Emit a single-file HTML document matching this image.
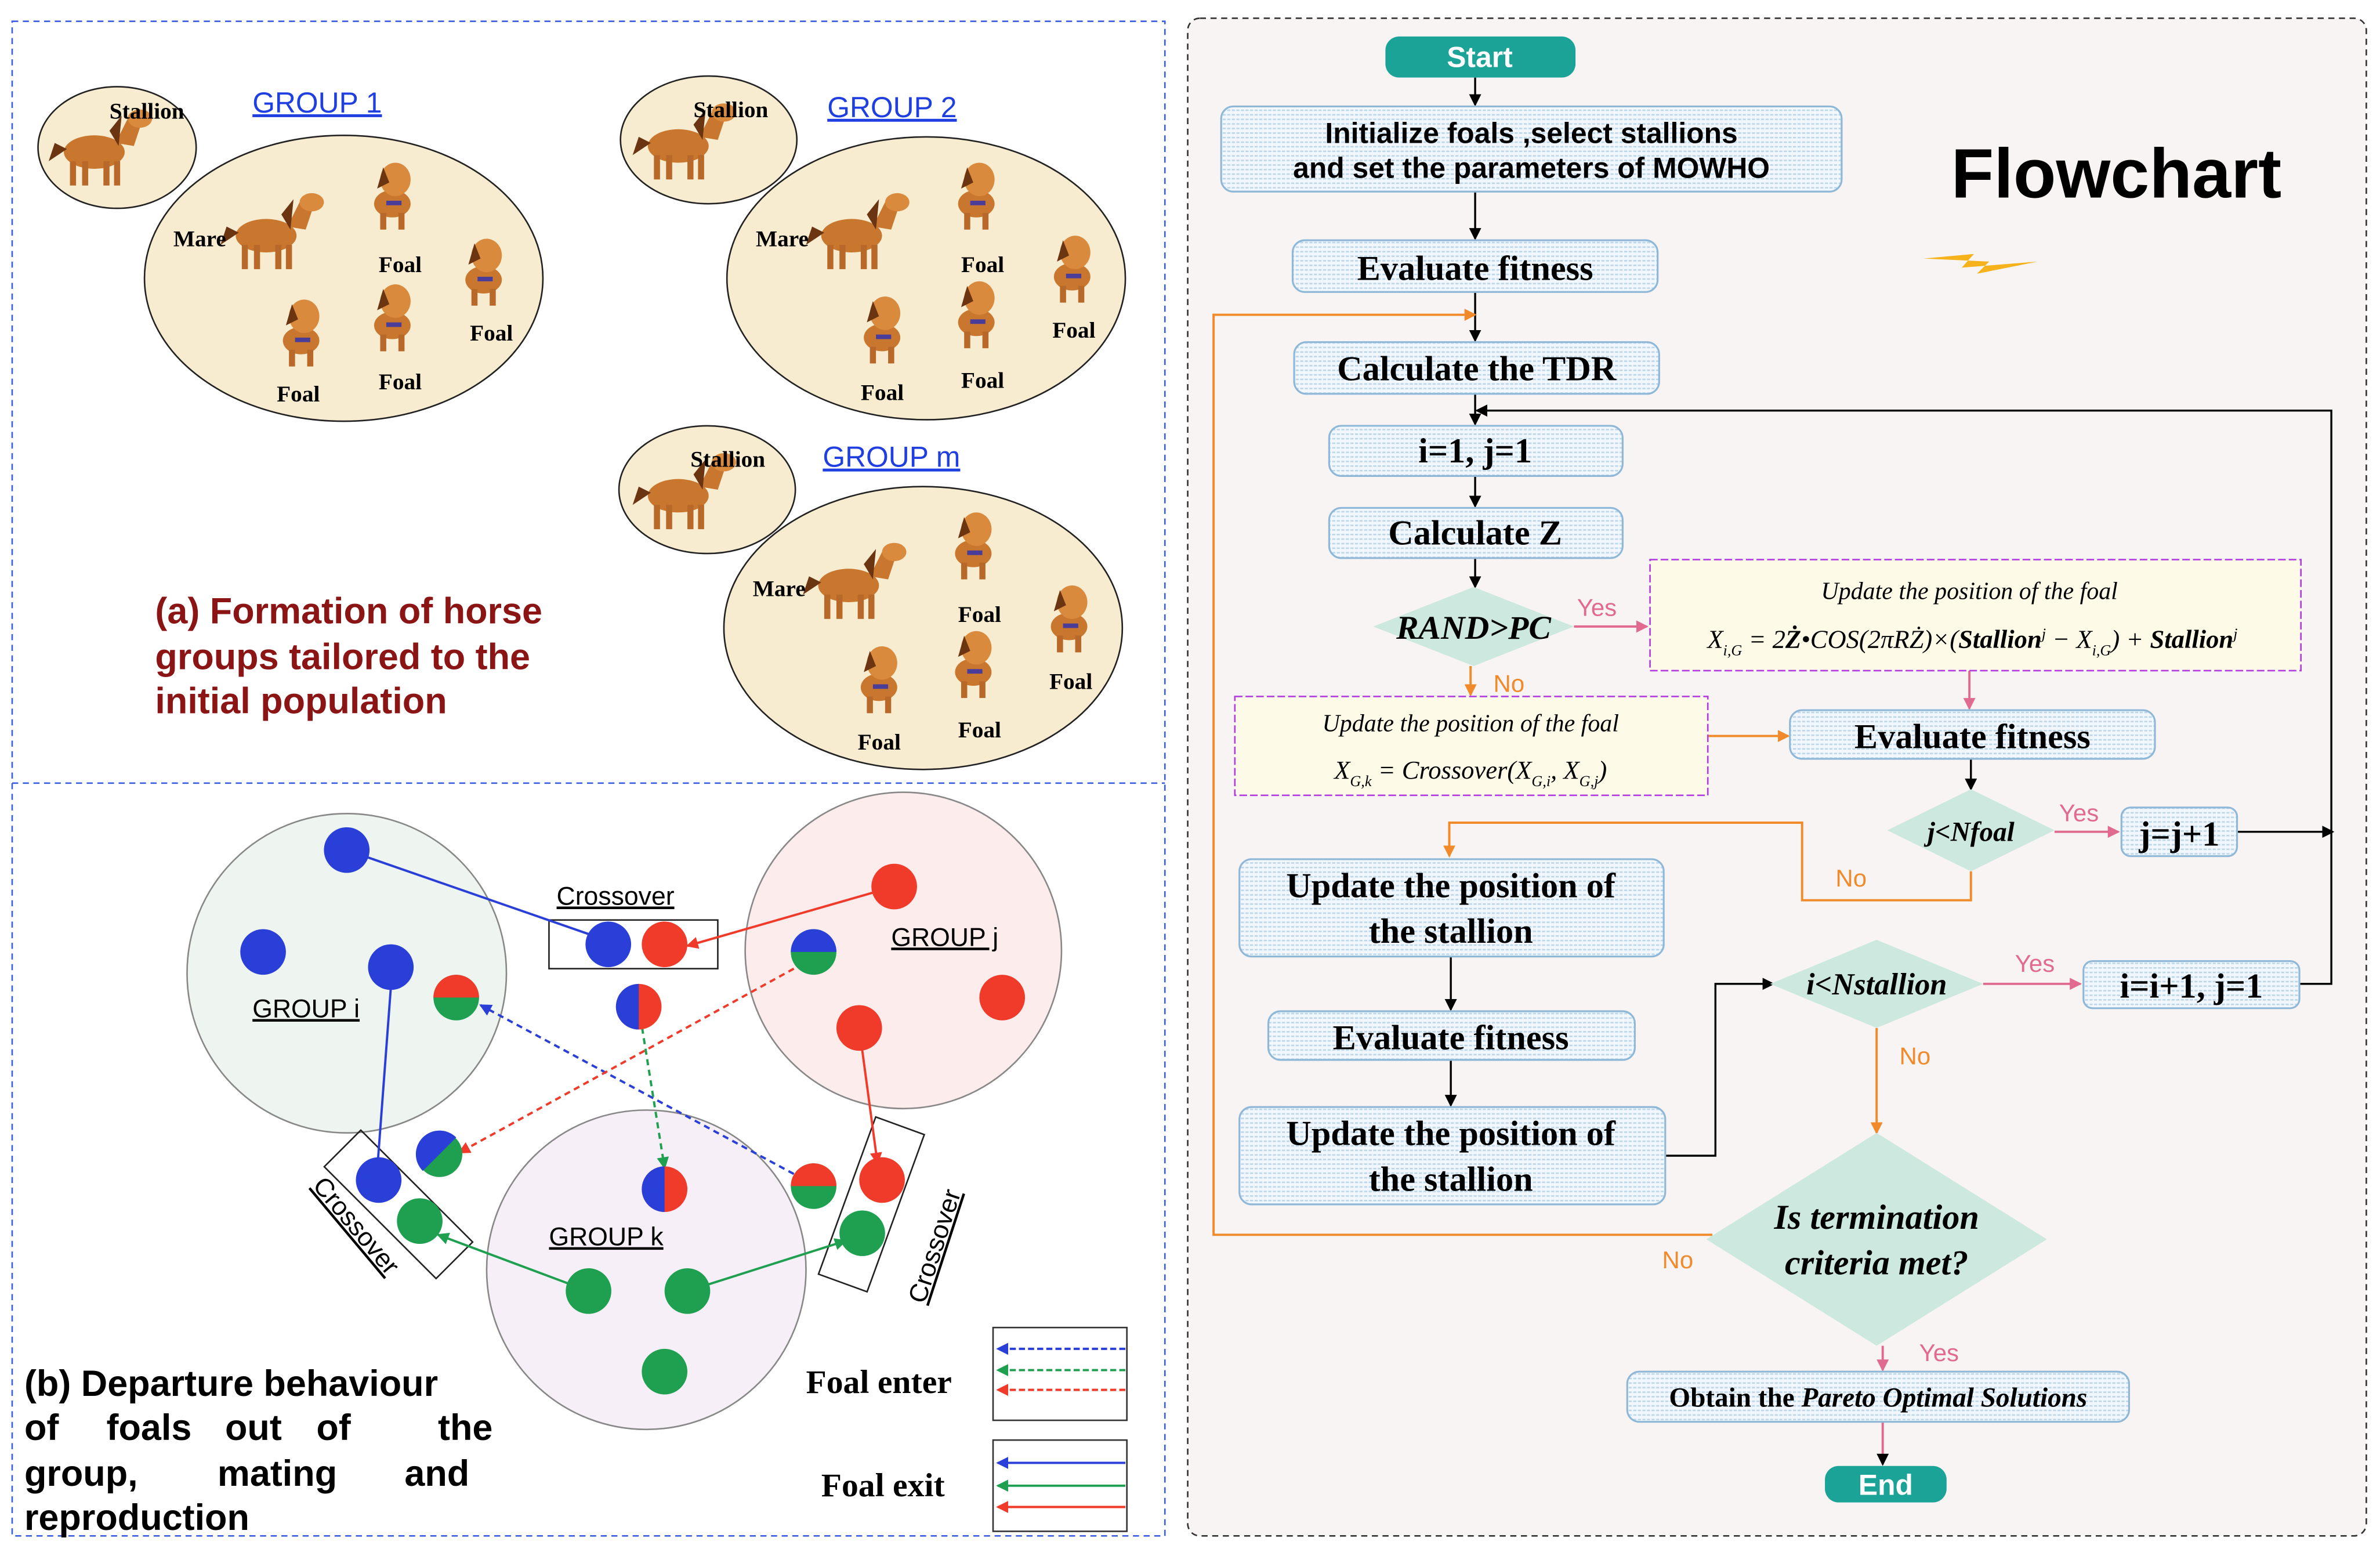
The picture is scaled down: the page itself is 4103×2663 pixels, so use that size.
<!DOCTYPE html>
<html><head><meta charset="utf-8"><style>
html,body{margin:0;padding:0;background:#fff;}
svg{display:block;}
.serif{font-family:"Liberation Serif",serif;}
.sans{font-family:"Liberation Sans",sans-serif;}
</style></head><body>
<svg width="4103" height="2663" viewBox="0 0 1565 1016" preserveAspectRatio="none" xmlns="http://www.w3.org/2000/svg">
<defs>
<pattern id="dots" width="3" height="3" patternUnits="userSpaceOnUse"><rect width="3" height="3" fill="#f1f7fc"/><rect width="2" height="1" fill="#bcd6ea"/></pattern>
<marker id="ab" markerWidth="8" markerHeight="8" refX="7" refY="4" orient="auto" markerUnits="userSpaceOnUse"><path d="M0,0 L8,4 L0,8z" fill="#000"/></marker>
<marker id="ao" markerWidth="8" markerHeight="8" refX="7" refY="4" orient="auto" markerUnits="userSpaceOnUse"><path d="M0,0 L8,4 L0,8z" fill="#f08a2a"/></marker>
<marker id="ap" markerWidth="8" markerHeight="8" refX="7" refY="4" orient="auto" markerUnits="userSpaceOnUse"><path d="M0,0 L8,4 L0,8z" fill="#e06b8e"/></marker>
<marker id="abl" markerWidth="8" markerHeight="8" refX="7" refY="4" orient="auto" markerUnits="userSpaceOnUse"><path d="M0,0 L8,4 L0,8z" fill="#2a3fd8"/></marker>
<marker id="ar" markerWidth="8" markerHeight="8" refX="7" refY="4" orient="auto" markerUnits="userSpaceOnUse"><path d="M0,0 L8,4 L0,8z" fill="#f03a2a"/></marker>
<marker id="ag" markerWidth="8" markerHeight="8" refX="7" refY="4" orient="auto" markerUnits="userSpaceOnUse"><path d="M0,0 L8,4 L0,8z" fill="#1fa050"/></marker>
<g id="horse">
<ellipse cx="0" cy="0" rx="20" ry="11" fill="#c9772e"/>
<path d="M14,-6 L24,-26 L32,-22 L26,-4z" fill="#c9772e"/>
<ellipse cx="30" cy="-22" rx="8" ry="6" fill="#d98a3c"/>
<path d="M18,-24 L10,-14 L16,-4z" fill="#6b3512"/>
<path d="M-18,-2 L-30,6 L-26,-6z" fill="#6b3512"/>
<rect x="-16" y="6" width="4" height="16" fill="#b8692a"/><rect x="-8" y="6" width="4" height="16" fill="#b8692a"/>
<rect x="6" y="6" width="4" height="16" fill="#b8692a"/><rect x="13" y="6" width="4" height="16" fill="#b8692a"/>
</g>
<g id="foal">
<ellipse cx="0" cy="4" rx="12" ry="9" fill="#c9772e"/>
<ellipse cx="2" cy="-12" rx="10" ry="11" fill="#d98a3c"/>
<path d="M-6,-20 L-10,-6 L-2,-10z" fill="#6b3512"/>
<rect x="-8" y="10" width="4" height="11" fill="#b8692a"/><rect x="4" y="10" width="4" height="11" fill="#b8692a"/>
<rect x="-4" y="2" width="10" height="3" fill="#4a3d9a"/>
</g>
</defs>
<rect width="1565" height="1016" fill="#fff"/>
<rect x="8" y="14" width="758" height="996" fill="#fff" stroke="#3b5fe0" stroke-width="1" stroke-dasharray="4,3"/>
<line x1="8" y1="515" x2="766" y2="515" stroke="#3b5fe0" stroke-dasharray="4,3"/>
<g class="serif" font-weight="bold" font-size="15">
<ellipse cx="77" cy="97" rx="52" ry="40" fill="#f7ebd0" stroke="#222"/>
<ellipse cx="226" cy="183" rx="131" ry="94" fill="#f7ebd0" stroke="#222"/>
<use href="#horse" x="62" y="100"/><text x="72" y="78">Stallion</text>
<use href="#horse" x="175" y="155"/><text x="114" y="162">Mare</text>
<use href="#foal" x="258" y="130"/><text x="249" y="179">Foal</text>
<use href="#foal" x="318" y="180"/><text x="309" y="224">Foal</text>
<use href="#foal" x="198" y="220"/><text x="182" y="264">Foal</text>
<use href="#foal" x="258" y="210"/><text x="249" y="256">Foal</text>
<text x="166" y="74" class="sans" font-weight="normal" font-size="19" fill="#1f3fe0" text-decoration="underline">GROUP 1</text>
<ellipse cx="466" cy="92" rx="58" ry="42" fill="#f7ebd0" stroke="#222"/>
<ellipse cx="609" cy="183" rx="131" ry="93" fill="#f7ebd0" stroke="#222"/>
<use href="#horse" x="446" y="96"/><text x="456" y="77">Stallion</text>
<use href="#horse" x="560" y="155"/><text x="497" y="162">Mare</text>
<use href="#foal" x="642" y="130"/><text x="632" y="179">Foal</text>
<use href="#foal" x="705" y="178"/><text x="692" y="222">Foal</text>
<use href="#foal" x="580" y="218"/><text x="566" y="263">Foal</text>
<use href="#foal" x="642" y="208"/><text x="632" y="255">Foal</text>
<text x="544" y="77" class="sans" font-weight="normal" font-size="19" fill="#1f3fe0" text-decoration="underline">GROUP 2</text>
<ellipse cx="465" cy="322" rx="58" ry="42" fill="#f7ebd0" stroke="#222"/>
<ellipse cx="607" cy="413" rx="131" ry="93" fill="#f7ebd0" stroke="#222"/>
<use href="#horse" x="446" y="326"/><text x="454" y="307">Stallion</text>
<use href="#horse" x="558" y="385"/><text x="495" y="392">Mare</text>
<use href="#foal" x="640" y="360"/><text x="630" y="409">Foal</text>
<use href="#foal" x="703" y="408"/><text x="690" y="453">Foal</text>
<use href="#foal" x="578" y="448"/><text x="564" y="493">Foal</text>
<use href="#foal" x="640" y="438"/><text x="630" y="485">Foal</text>
<text x="541" y="307" class="sans" font-weight="normal" font-size="19" fill="#1f3fe0" text-decoration="underline">GROUP m</text>
</g>
<g class="sans" font-size="24" font-weight="bold" fill="#8b1414">
<text x="102" y="410">(a) Formation of horse</text>
<text x="102" y="440">groups tailored to the</text>
<text x="102" y="469">initial population</text>
</g>
<circle cx="228" cy="640" r="105" fill="#eef4ef" stroke="#888"/>
<circle cx="594" cy="625" r="104" fill="#fcecec" stroke="#888"/>
<circle cx="425" cy="835" r="105" fill="#f6eff7" stroke="#888"/>
<g class="sans" font-size="17" text-decoration="underline">
<text x="166" y="669">GROUP i</text><text x="586" y="622">GROUP j</text><text x="361" y="819">GROUP k</text>
<text x="366" y="595">Crossover</text>
<text transform="translate(205,780) rotate(50)">Crossover</text>
<text transform="translate(608,858) rotate(-72)">Crossover</text>
</g>
<rect x="361" y="605" width="111" height="32" fill="none" stroke="#222"/>
<rect x="245" y="740" width="34" height="104" fill="none" stroke="#222" transform="rotate(-45 262 792)"/>
<rect x="556" y="737" width="34" height="110" fill="none" stroke="#222" transform="rotate(20 573 792)"/>
<g stroke-width="1.5" fill="none">
<line x1="228" y1="559" x2="395" y2="617" stroke="#2a3fd8" marker-end="url(#abl)"/>
<line x1="258" y1="636" x2="248" y2="770" stroke="#2a3fd8" marker-end="url(#abl)"/>
<line x1="588" y1="583" x2="452" y2="622" stroke="#f03a2a" marker-end="url(#ar)"/>
<line x1="565" y1="676" x2="577" y2="765" stroke="#f03a2a" marker-end="url(#ar)"/>
<line x1="387" y1="849" x2="288" y2="812" stroke="#1fa050" marker-end="url(#ag)"/>
<line x1="452" y1="849" x2="556" y2="816" stroke="#1fa050" marker-end="url(#ag)"/>
<line x1="522" y1="772" x2="316" y2="661" stroke="#2a3fd8" stroke-dasharray="4,3" marker-end="url(#abl)"/>
<line x1="420" y1="662" x2="437" y2="768" stroke="#1fa050" stroke-dasharray="4,3" marker-end="url(#ag)"/>
<line x1="522" y1="637" x2="302" y2="758" stroke="#f03a2a" stroke-dasharray="4,3" marker-end="url(#ar)"/>
</g>
<g>
<circle cx="228" cy="559" r="15" fill="#2a3fd8"/><circle cx="173" cy="626" r="15" fill="#2a3fd8"/><circle cx="257" cy="636" r="15" fill="#2a3fd8"/>
<circle cx="588" cy="583" r="15" fill="#f03a2a"/><circle cx="659" cy="656" r="15" fill="#f03a2a"/><circle cx="565" cy="676" r="15" fill="#f03a2a"/>
<circle cx="387" cy="849" r="15" fill="#1fa050"/><circle cx="452" cy="849" r="15" fill="#1fa050"/><circle cx="437" cy="902" r="15" fill="#1fa050"/>
<circle cx="400" cy="621" r="15" fill="#2a3fd8"/><circle cx="437" cy="621" r="15" fill="#f03a2a"/>
<circle cx="249" cy="776" r="15" fill="#2a3fd8"/><circle cx="276" cy="803" r="15" fill="#1fa050"/>
<circle cx="580" cy="776" r="15" fill="#f03a2a"/><circle cx="567" cy="811" r="15" fill="#1fa050"/>
<circle cx="420" cy="662" r="15" fill="#f03a2a"/><path d="M420,647 A15,15 0 0,0 420,677z" fill="#2a3fd8"/>
<circle cx="437" cy="782" r="15" fill="#f03a2a"/><path d="M437,767 A15,15 0 0,0 437,797z" fill="#2a3fd8"/>
<circle cx="300" cy="656" r="15" fill="#1fa050"/><path d="M285,656 A15,15 0 0,1 315,656z" fill="#f03a2a"/>
<circle cx="535" cy="626" r="15" fill="#1fa050"/><path d="M520,626 A15,15 0 0,1 550,626z" fill="#2a3fd8"/>
<circle cx="289" cy="759" r="15" fill="#1fa050"/><path d="M278,748 A15,15 0 0,1 300,770z" fill="#2a3fd8" transform="rotate(-90 289 759)"/>
<circle cx="535" cy="780" r="15" fill="#1fa050"/><path d="M520,780 A15,15 0 0,1 550,780z" fill="#f03a2a"/>
</g>
<g class="sans" font-size="24" font-weight="bold">
<text x="16" y="918">(b) Departure behaviour</text>
<text x="16" y="947">of</text><text x="70" y="947">foals</text><text x="148" y="947">out</text><text x="208" y="947">of</text><text x="288" y="947">the</text>
<text x="16" y="977">group,</text><text x="143" y="977">mating</text><text x="266" y="977">and</text>
<text x="16" y="1006">reproduction</text>
</g>
<text x="530" y="916" class="serif" font-weight="bold" font-size="22">Foal enter</text>
<text x="540" y="984" class="serif" font-weight="bold" font-size="22">Foal exit</text>
<rect x="653" y="873" width="88" height="61" fill="#fff" stroke="#333"/>
<rect x="653" y="947" width="88" height="60" fill="#fff" stroke="#333"/>
<g stroke-width="1.5">
<line x1="740" y1="887" x2="656" y2="887" stroke="#2a3fd8" stroke-dasharray="4,2" marker-end="url(#abl)"/>
<line x1="740" y1="901" x2="656" y2="901" stroke="#1fa050" stroke-dasharray="4,2" marker-end="url(#ag)"/>
<line x1="740" y1="914" x2="656" y2="914" stroke="#f03a2a" stroke-dasharray="4,2" marker-end="url(#ar)"/>
<line x1="740" y1="962" x2="656" y2="962" stroke="#2a3fd8" marker-end="url(#abl)"/>
<line x1="740" y1="977" x2="656" y2="977" stroke="#1fa050" marker-end="url(#ag)"/>
<line x1="740" y1="991" x2="656" y2="991" stroke="#f03a2a" marker-end="url(#ar)"/>
</g>
<rect x="781" y="12" width="775" height="998" rx="8" fill="#f8f4f4" stroke="#333" stroke-dasharray="4,3"/>
<text x="1283" y="130" class="sans" font-weight="bold" font-size="46">Flowchart</text>
<path d="M1265,170 L1298,167 L1290,176 L1340,172 L1300,180 L1308,172z" fill="#f5b21a"/>
<g stroke="#000" stroke-width="1.3" fill="none">
<line x1="970" y1="51" x2="970" y2="69" marker-end="url(#ab)"/>
<line x1="970" y1="126" x2="970" y2="157" marker-end="url(#ab)"/>
<line x1="970" y1="192" x2="970" y2="224" marker-end="url(#ab)"/>
<line x1="970" y1="259" x2="970" y2="279" marker-end="url(#ab)"/>
<line x1="970" y1="313" x2="970" y2="333" marker-end="url(#ab)"/>
<line x1="970" y1="367" x2="970" y2="386" marker-end="url(#ab)"/>
<line x1="1296" y1="499" x2="1296" y2="519" marker-end="url(#ab)"/>
<polyline points="1512,647 1533,647 1533,270 971,270" marker-end="url(#ab)"/>
<line x1="1471" y1="547" x2="1534" y2="547" marker-end="url(#ab)"/>
<line x1="954" y1="629" x2="954" y2="664" marker-end="url(#ab)"/>
<line x1="954" y1="697" x2="954" y2="727" marker-end="url(#ab)"/>
<polyline points="1095,760 1128,760 1128,647 1166,647" marker-end="url(#ab)"/>
</g>
<g stroke="#f08a2a" stroke-width="1.5" fill="none">
<polyline points="1126,812 798,812 798,207 970,207" marker-end="url(#ao)"/>
<line x1="967" y1="438" x2="967" y2="457" marker-end="url(#ao)"/>
<line x1="1123" y1="484" x2="1176" y2="484" marker-end="url(#ao)"/>
<polyline points="1296,573 1296,592 1185,592 1185,541 953,541 953,563" marker-end="url(#ao)"/>
<line x1="1234" y1="676" x2="1234" y2="745" marker-end="url(#ao)"/>
</g>
<g stroke="#e06b8e" stroke-width="1.5" fill="none">
<line x1="1035" y1="412" x2="1083" y2="412" marker-end="url(#ap)"/>
<line x1="1295" y1="441" x2="1295" y2="466" marker-end="url(#ap)"/>
<line x1="1351" y1="547" x2="1393" y2="547" marker-end="url(#ap)"/>
<line x1="1304" y1="647" x2="1368" y2="647" marker-end="url(#ap)"/>
<line x1="1238" y1="885" x2="1238" y2="901" marker-end="url(#ap)"/>
<line x1="1238" y1="935" x2="1238" y2="963" marker-end="url(#ab)"/>
</g>
<g stroke="#8fb8d8" stroke-width="1.2" fill="url(#dots)">
<rect x="803" y="70" width="408" height="56" rx="8"/>
<rect x="850" y="158" width="240" height="34" rx="8"/>
<rect x="851" y="225" width="240" height="34" rx="8"/>
<rect x="874" y="280" width="193" height="33" rx="8"/>
<rect x="874" y="334" width="193" height="33" rx="8"/>
<rect x="1177" y="467" width="240" height="32" rx="8"/>
<rect x="1395" y="531" width="76" height="32" rx="6"/>
<rect x="815" y="565" width="279" height="64" rx="8"/>
<rect x="834" y="665" width="241" height="32" rx="8"/>
<rect x="815" y="728" width="280" height="64" rx="8"/>
<rect x="1370" y="632" width="142" height="31" rx="6"/>
<rect x="1070" y="902" width="330" height="33" rx="8"/>
</g>
<rect x="1085" y="368" width="428" height="73" fill="#fdfbe8" stroke="#b23be0" stroke-dasharray="5,2"/>
<rect x="812" y="458" width="311" height="65" fill="#fdfbe8" stroke="#b23be0" stroke-dasharray="5,2"/>
<g fill="#cde8df">
<polygon points="969,386 1035,412 969,438 903,412"/>
<polygon points="1296,519 1351,546 1296,573 1241,546"/>
<polygon points="1234,618 1304,647 1234,676 1164,647"/>
<polygon points="1234,745 1346,815 1234,885 1122,815"/>
</g>
<rect x="911" y="24" width="125" height="27" rx="9" fill="#1aa396"/>
<rect x="1200" y="964" width="80" height="24" rx="9" fill="#1aa396"/>
<g class="sans" font-weight="bold" fill="#fff" font-size="19" text-anchor="middle">
<text x="973" y="44">Start</text><text x="1240" y="983">End</text>
</g>
<g class="sans" font-weight="bold" font-size="19" text-anchor="middle">
<text x="1007" y="94">Initialize  foals ,select stallions</text>
<text x="1007" y="117">and set the parameters of MOWHO</text>
</g>
<g class="serif" font-weight="bold" font-size="23" text-anchor="middle">
<text x="970" y="184">Evaluate  fitness</text>
<text x="971" y="250">Calculate the TDR</text>
<text x="970" y="304">i=1,  j=1</text>
<text x="970" y="358">Calculate    Z</text>
<text x="1297" y="492">Evaluate  fitness</text>
<text x="1433" y="556">j=j+1</text>
<text x="954" y="590">Update the position of</text>
<text x="954" y="620">the stallion</text>
<text x="954" y="690">Evaluate  fitness</text>
<text x="954" y="753">Update the position of</text>
<text x="954" y="783">the stallion</text>
<text x="1441" y="656">i=i+1, j=1</text>
</g>
<g class="serif" font-weight="bold" font-style="italic" text-anchor="middle">
<text x="969" y="420" font-size="22">RAND&gt;PC</text>
<text x="1296" y="553" font-size="18">j&lt;Nfoal</text>
<text x="1234" y="654" font-size="20">i&lt;Nstallion</text>
<text x="1234" y="808" font-size="23">Is termination</text>
<text x="1234" y="838" font-size="23">criteria met?</text>
</g>
<g class="serif" font-style="italic" font-size="16" text-anchor="middle">
<text x="1295" y="394">Update the position of the foal</text>
<text x="1297" y="426" font-size="17">X<tspan font-size="10" dy="5">i,G</tspan><tspan dy="-5"> = 2<tspan font-weight="bold">Ż</tspan>•COS(2πRŻ)×(<tspan font-weight="bold">Stallion</tspan><tspan font-size="10" dy="-6">j</tspan><tspan dy="6"> − X</tspan><tspan font-size="10" dy="5">i,G</tspan><tspan dy="-5">) + </tspan><tspan font-weight="bold">Stallion</tspan><tspan font-size="10" dy="-6">j</tspan></tspan></text>
<text x="967" y="481">Update the position of the foal</text>
<text x="967" y="512" font-size="17">X<tspan font-size="10" dy="5">G,k</tspan><tspan dy="-5"> = Crossover(X</tspan><tspan font-size="10" dy="5">G,i</tspan><tspan dy="-5">, X</tspan><tspan font-size="10" dy="5">G,j</tspan><tspan dy="-5">)</tspan></text>
</g>
<text x="1235" y="925" class="serif" font-weight="bold" font-size="18" text-anchor="middle">Obtain the <tspan font-style="italic">Pareto Optimal Solutions</tspan></text>
<g class="sans" font-size="16">
<text x="1037" y="405" fill="#e06b8e">Yes</text>
<text x="982" y="455" fill="#f08a2a">No</text>
<text x="1354" y="540" fill="#e06b8e">Yes</text>
<text x="1207" y="583" fill="#f08a2a">No</text>
<text x="1325" y="639" fill="#e06b8e">Yes</text>
<text x="1249" y="700" fill="#f08a2a">No</text>
<text x="1093" y="834" fill="#f08a2a">No</text>
<text x="1262" y="895" fill="#e06b8e">Yes</text>
</g>
</svg>
</body></html>
